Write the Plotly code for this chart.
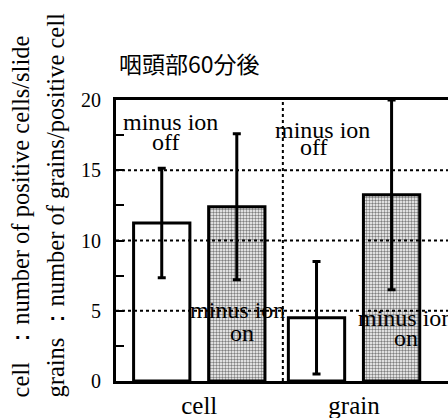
import plotly.graph_objects as go

# Categories and measured values (mean and error half-widths)
categories = ["cell", "grain"]
off_values = [11.25, 4.5]
off_errors = [3.9, 4.0]
on_values = [12.4, 13.25]
on_errors = [5.2, 6.75]

y_ticks = [0, 5, 10, 15, 20]
y_tick_labels = ["0", "5", "10", "15", "20"]
grid_levels = [5, 10, 15]

title_text = "咽頭部60分後"
y_title_cell = "cell  ：number of positive cells/slide"
y_title_grain = "grains ：number of grains/positive cell"

SERIF = "Liberation Serif"
CJK = "Noto Sans CJK JP"

W, H = 448, 418
L, R, T, B = 116, 0, 100, 36.5
plot_w = W - L - R
plot_h = H - T - B


def px_to_paper_x(px):
    return (px - L) / plot_w


def px_to_paper_y(py):
    return (H - B - py) / plot_h


fig = go.Figure()

fig.add_trace(go.Bar(
    x=categories, y=off_values, name="off",
    marker=dict(color="white", line=dict(color="black", width=3)),
    error_y=dict(type="data", array=off_errors, color="black", thickness=3, width=4),
    cliponaxis=False,
))
fig.add_trace(go.Bar(
    x=categories, y=on_values, name="on",
    marker=dict(
        color="white",
        pattern=dict(shape=".", fgcolor="black", bgcolor="white", size=3, solidity=0.5),
        line=dict(color="black", width=3),
    ),
    error_y=dict(type="data", array=on_errors, color="black", thickness=3, width=4),
    cliponaxis=False,
))

# dotted reference lines drawn over the bars
for g in grid_levels:
    fig.add_shape(type="line", xref="x domain", yref="y", x0=0, x1=1, y0=g, y1=g,
                  line=dict(color="black", width=2, dash="dot"), layer="above")
# divider between the two groups
fig.add_shape(type="line", xref="x", yref="y", x0=0.54, x1=0.54, y0=0, y1=20,
              line=dict(color="black", width=2, dash="dot"), layer="above")

label_font = dict(family=SERIF, size=24, color="black")
bar_labels = [
    ("minus ion", -0.189, 18.44), ("off", -0.215, 17.0),
    ("minus ion", 0.793, 17.87), ("off", 0.742, 16.66),
    ("minus ion", 0.244, 5.08), ("on", 0.276, 3.45),
    ("minus ion", 1.33, 4.51), ("on", 1.336, 3.09),
]
for text, xv, yv in bar_labels:
    fig.add_annotation(x=xv, y=yv, xref="x", yref="y", text=text, showarrow=False,
                       font=label_font, xanchor="center", yanchor="middle")

# rotated axis descriptions
for text, cx in [(y_title_cell, 20), (y_title_grain, 55)]:
    fig.add_annotation(x=px_to_paper_x(cx), y=px_to_paper_y(400), xref="paper", yref="paper",
                       text=text, showarrow=False, textangle=-90,
                       font=dict(family=SERIF, size=24.5, color="black"),
                       xanchor="center", yanchor="bottom")

fig.add_annotation(x=px_to_paper_x(117), y=px_to_paper_y(63), xref="paper", yref="paper",
                   text=title_text, showarrow=False,
                   font=dict(family=CJK, size=23, color="black"),
                   xanchor="left", yanchor="middle")

fig.update_layout(
    width=W, height=H,
    margin=dict(l=L, r=R, t=T, b=B, pad=0),
    paper_bgcolor="white", plot_bgcolor="white",
    showlegend=False,
    barmode="group", bargap=0.03, bargroupgap=0.25,
    xaxis=dict(
        range=[-0.538, 1.607], showgrid=False, zeroline=False,
        showline=True, linecolor="black", linewidth=3, mirror=True,
        ticks="", tickfont=dict(family=SERIF, size=25, color="black"),
    ),
    yaxis=dict(
        range=[0, 20], tickvals=y_ticks, ticktext=y_tick_labels,
        showgrid=False, zeroline=False,
        showline=True, linecolor="black", linewidth=3,
        ticks="inside", ticklen=8, tickwidth=2, tickcolor="black",
        minor=dict(dtick=2.5, ticks="inside", ticklen=8, tickwidth=2, tickcolor="black"),
        tickfont=dict(family=SERIF, size=20, color="black"),
        ticklabelstandoff=8,
    ),
)

fig.write_html("out.html")
